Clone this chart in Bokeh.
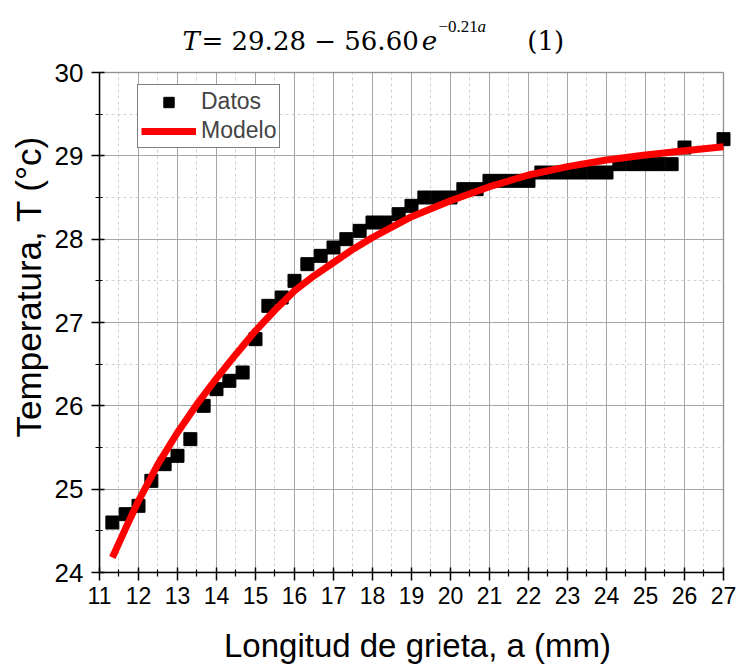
from bokeh.plotting import figure
from bokeh.models import FixedTicker, Legend, LegendItem, Range1d, BoxAnnotation
from bokeh.core.properties import value
from bokeh.embed import file_html
from bokeh.resources import INLINE

# Experimental data
crack_length = [11.33, 11.67, 12.0, 12.33, 12.67, 13.0, 13.33, 13.67, 14.0, 14.33,
                14.67, 15.0, 15.33, 15.67, 16.0, 16.33, 16.67, 17.0, 17.33, 17.67,
                18.0, 18.33, 18.67, 19.0, 19.33, 19.67, 20.0, 20.33, 20.67, 21.0,
                21.33, 21.67, 22.0, 22.33, 22.67, 23.0, 23.33, 23.67, 24.0, 24.33,
                24.67, 25.0, 25.33, 25.67, 26.0, 27.0]
temperature = [24.6, 24.7, 24.8, 25.1, 25.3, 25.4, 25.6, 26.0, 26.2, 26.3,
               26.4, 26.8, 27.2, 27.3, 27.5, 27.7, 27.8, 27.9, 28.0, 28.1,
               28.2, 28.2, 28.3, 28.4, 28.5, 28.5, 28.5, 28.6, 28.6, 28.7,
               28.7, 28.7, 28.7, 28.8, 28.8, 28.8, 28.8, 28.8, 28.8, 28.9,
               28.9, 28.9, 28.9, 28.9, 29.1, 29.2]

# Model curve (read from the drawn fit)
model_a = [11.33, 11.67, 12.0, 12.5, 13.0, 13.5, 14.0, 14.5, 15.0, 15.5, 16.0,
           16.5, 17.0, 17.5, 18.0, 19.0, 20.0, 21.0, 22.0, 23.0, 24.0, 25.0,
           26.0, 27.0]
model_T = [24.18, 24.53, 24.86, 25.30, 25.68, 26.02, 26.33, 26.62, 26.90, 27.15,
           27.38, 27.56, 27.72, 27.88, 28.02, 28.27, 28.46, 28.63, 28.77, 28.87,
           28.95, 29.01, 29.06, 29.11]

x_ticks = list(range(11, 28))
x_minor = [t + 0.5 for t in range(11, 27)]
y_ticks = list(range(24, 31))
y_minor = [t + 0.5 for t in range(24, 30)]
X_MIN, X_MAX = 11, 27
Y_MIN, Y_MAX = 24, 30

# Equation text pieces shown above the chart
eq_text_upright = ["= 29.28 − 56.60", "(1)"]
eq_text_italic = ["T", "e"]
eq_sup_upright = ["−0.21"]
eq_sup_italic = ["a"]

p = figure(width=738, height=666, output_backend="svg", toolbar_location=None,
           x_range=Range1d(X_MIN, 27.308), y_range=Range1d(Y_MIN, 30.864),
           min_border_left=99, min_border_right=3, min_border_top=0,
           min_border_bottom=94)
p.background_fill_color = "white"
p.border_fill_color = "white"
p.outline_line_color = None

for ax, ticks, minor, bnds in ((p.xaxis[0], x_ticks, x_minor, (X_MIN, X_MAX)),
                               (p.yaxis[0], y_ticks, y_minor, (Y_MIN, Y_MAX))):
    ax.ticker = FixedTicker(ticks=ticks, minor_ticks=minor)
    ax.bounds = bnds
    ax.axis_line_width = 1.5
    ax.axis_line_color = "black"
    ax.major_tick_line_color = "black"
    ax.major_tick_line_width = 1.5
    ax.minor_tick_line_color = "black"
    ax.minor_tick_line_width = 1.2
    ax.major_tick_in = 5
    ax.major_tick_out = 8
    ax.minor_tick_in = 3
    ax.minor_tick_out = 4
    ax.major_label_text_color = "black"
    ax.axis_label_text_color = "black"
    ax.axis_label_text_font_style = "normal"

p.xaxis.major_label_text_font = "Liberation Sans"
p.xaxis.major_label_text_font_size = "23px"
p.xaxis.major_label_standoff = 6
p.xaxis.axis_label = "Longitud de grieta, a (mm)"
p.xaxis.axis_label_text_font = "Liberation Sans"
p.xaxis.axis_label_text_font_size = "33px"
p.xaxis.axis_label_standoff = 20

p.yaxis.major_label_text_font = "Liberation Sans"
p.yaxis.major_label_text_font_size = "26px"
p.yaxis.major_label_standoff = 8
p.yaxis.axis_label = "Temperatura, T (°c)"
p.yaxis.axis_label_text_font = "Liberation Sans"
p.yaxis.axis_label_text_font_size = "35px"
p.yaxis.axis_label_standoff = 4

for g in (p.xgrid[0], p.ygrid[0]):
    g.grid_line_color = "#a6a6a6"
    g.grid_line_width = 1
    g.minor_grid_line_color = "#cfcfcf"
    g.minor_grid_line_width = 1
    g.minor_grid_line_dash = "3 3"

# white masks so that the grid stays inside the plotting box
p.add_layout(BoxAnnotation(bottom=Y_MAX, fill_color="white", fill_alpha=1,
                           line_color=None, level="underlay"))
p.add_layout(BoxAnnotation(left=X_MAX, fill_color="white", fill_alpha=1,
                           line_color=None, level="underlay"))

sq = p.scatter(crack_length, temperature, marker="square", size=13,
               fill_color="black", line_color="black")
ln = p.line(model_a, model_T, line_color="#ff0000", line_width=7)

# plotting box border
p.add_layout(BoxAnnotation(left=X_MIN, right=X_MAX, bottom=Y_MIN, top=Y_MAX,
                           fill_alpha=0, line_color="black", line_width=1.5,
                           level="underlay"))

legend = Legend(items=[LegendItem(label="Datos", renderers=[sq]),
                       LegendItem(label="Modelo", renderers=[ln])],
                location=(38, 424), label_text_font="Liberation Sans",
                label_text_font_size="23px", glyph_width=55, glyph_height=26,
                label_height=26, label_standoff=5, padding=3, spacing=2,
                margin=0, border_line_color="black", border_line_width=1,
                background_fill_alpha=1.0)
p.add_layout(legend)

serif = value("DejaVu Serif")
sup_serif = value("Liberation Serif")
p.text(x=[13.615, 21.97], y=[30.384, 30.384], text=eq_text_upright,
       text_font=serif, text_font_size="26px", text_baseline="alphabetic",
       text_color="black")
p.text(x=[13.13, 19.26], y=[30.384, 30.384], text=eq_text_italic,
       text_font=serif, text_font_style="italic", text_font_size="26px",
       text_baseline="alphabetic", text_color="black")
p.text(x=[19.69], y=[30.55], text=eq_sup_upright,
       text_font=sup_serif, text_font_size="17px", text_baseline="alphabetic",
       text_color="black")
p.text(x=[20.69], y=[30.55], text=eq_sup_italic,
       text_font=sup_serif, text_font_style="italic", text_font_size="17px",
       text_baseline="alphabetic", text_color="black")

open("out.html", "w").write(file_html(p, INLINE))
